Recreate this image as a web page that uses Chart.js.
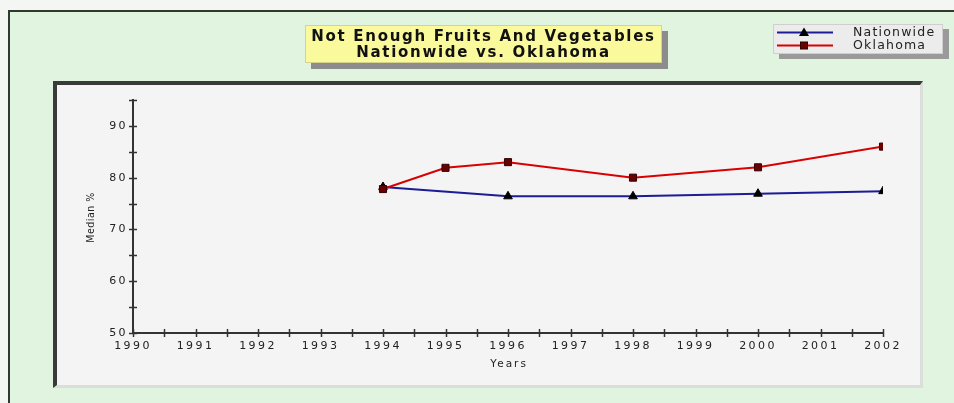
<!DOCTYPE html>
<html>
<head>
<meta charset="utf-8">
<script src="https://cdn.jsdelivr.net/npm/chart.js@4/dist/chart.umd.min.js"></script>
<style>
  body { margin: 0; background: #f4f6f4; font-family: "DejaVu Sans", Verdana, sans-serif; }
  #frame { position: absolute; left: 8px; top: 10px; width: 946px; height: 393px;
           box-sizing: border-box; border-left: 2px solid #2e3a2e; border-top: 2px solid #2e3a2e;
           background: #e0f4e0; }
  #panel { position: absolute; left: 53px; top: 81px; width: 870px; height: 307px;
           box-sizing: border-box; background: #f4f4f4;
           border-left: 4px solid #3a3a3a; border-top: 4px solid #3a3a3a;
           border-right: 3px solid #dcdedc; border-bottom: 3px solid #dcdedc; }
  #wrap { position: absolute; left: 0; top: 0; width: 954px; height: 403px; }
  #title { position: absolute; left: 305px; top: 25px; width: 357px; height: 38px;
           box-sizing: border-box; background: #fafa9c; border: 1px solid #d4d48a;
           box-shadow: 6px 6px 0 #8c8c8c; text-align: center;
           font-weight: bold; font-size: 15px; letter-spacing: 1.7px; line-height: 15.5px;
           padding-top: 3px; color: #111; white-space: nowrap; }
  #legend { position: absolute; left: 773px; top: 24px; width: 170px; height: 30px;
            box-sizing: border-box; background: #ececec; border: 1px solid #cfcfcf;
            box-shadow: 6px 5px 0 #9a9a9a; font-size: 12.5px; letter-spacing: 1.2px; color: #222; }
  .row { position: absolute; left: 3px; height: 13px; }
  .row svg { position: absolute; left: 0; top: 0; }
  .row span { position: absolute; left: 76px; top: -2px; white-space: nowrap; }
</style>
</head>
<body>
<div id="frame"></div>
<div id="panel"></div>
<div id="wrap"><canvas id="lineChart" width="954" height="403"></canvas></div>
<div id="title">Not Enough Fruits And Vegetables<br>Nationwide vs. Oklahoma</div>
<div id="legend">
  <div class="row" style="top:1px">
    <svg width="58" height="13"><line x1="0" y1="6.5" x2="56" y2="6.5" stroke="#1c1c96" stroke-width="2"/><polygon points="27,1.5 32,10 22,10" fill="#000"/></svg>
    <span>Nationwide</span>
  </div>
  <div class="row" style="top:14px">
    <svg width="58" height="13"><line x1="0" y1="6.5" x2="56" y2="6.5" stroke="#d80000" stroke-width="2"/><rect x="23.5" y="3" width="7" height="7" fill="#6b0000" stroke="#300000" stroke-width="1"/></svg>
    <span>Oklahoma</span>
  </div>
</div>

<script>
//データ
const nationwideYears = [1994, 1996, 1998, 2000, 2002];
const nationwide = [78.2, 76.4, 76.4, 76.9, 77.4];
const oklahomaYears = [1994, 1995, 1996, 1998, 2000, 2002];
const oklahoma = [77.8, 81.9, 83.0, 80.0, 82.0, 86.0];

function toPoints(xs, ys) {
    return xs.map(function (x, i) { return { x: x, y: ys[i] }; });
}

//軸を横切る目盛りと軸タイトル
const crossTicks = {
    id: "crossTicks",
    beforeUpdate(chart) { chart.ctx.letterSpacing = "2.4px"; },
    beforeDraw(chart) { chart.ctx.letterSpacing = "2.4px"; },
    beforeDatasetsDraw(chart) {
        const ctx = chart.ctx;
        const xs = chart.scales.x;
        const ys = chart.scales.y;
        const area = chart.chartArea;
        ctx.save();
        ctx.strokeStyle = "#333";
        ctx.lineWidth = 1.5;
        ctx.beginPath();
        xs.ticks.forEach(function (t, i) {
            const px = Math.round(xs.getPixelForTick(i)) + 0.5;
            ctx.moveTo(px, area.bottom - 4);
            ctx.lineTo(px, area.bottom + 4);
        });
        ys.ticks.forEach(function (t, i) {
            const py = Math.round(ys.getPixelForTick(i)) + 0.5;
            ctx.moveTo(area.left - 4, py);
            ctx.lineTo(area.left + 4, py);
        });
        ctx.stroke();

        ctx.fillStyle = "#222";
        ctx.textAlign = "center";
        ctx.textBaseline = "middle";
        ctx.letterSpacing = "2px";
        ctx.font = "10.5px 'DejaVu Sans'";
        ctx.fillText("Years", (area.left + area.right) / 2 + 1, area.bottom + 31);

        ctx.letterSpacing = "0.5px";
        ctx.font = "10.5px 'DejaVu Sans Condensed'";
        ctx.translate(area.left - 42, (area.top + area.bottom) / 2 + 1);
        ctx.rotate(-Math.PI / 2);
        ctx.fillText("Median %", 0, 0);
        ctx.restore();
    }
};

let lineChart = document.getElementById("lineChart");
new Chart(lineChart, {
    type: "line",
    data: {
        datasets: [
            {
                label: "Nationwide",
                data: toPoints(nationwideYears, nationwide),
                borderColor: "#1c1c96",
                borderWidth: 2,
                pointStyle: "triangle",
                pointRadius: 5,
                pointBackgroundColor: "#000",
                pointBorderColor: "#000",
                pointBorderWidth: 1,
                tension: 0,
                order: 2,
            },
            {
                label: "Oklahoma",
                data: toPoints(oklahomaYears, oklahoma),
                borderColor: "#d80000",
                borderWidth: 2,
                pointStyle: "rect",
                pointRadius: 5,
                pointBackgroundColor: "#6b0000",
                pointBorderColor: "#300000",
                pointBorderWidth: 1,
                tension: 0,
                order: 1,
            },
        ],
    },
    options: {
        responsive: false,
        animation: false,
        layout: { padding: { left: 81, right: 71, top: 100, bottom: 32 } },
        plugins: { legend: { display: false }, title: { display: false }, tooltip: { enabled: false } },
        scales: {
            x: {
                type: "linear",
                min: 1990,
                max: 2002,
                grid: { display: false, drawTicks: false },
                border: { display: true, color: "#333", width: 2 },
                afterFit: function (s) { s.height = 38; },
                ticks: {
                    stepSize: 0.5,
                    autoSkip: false,
                    maxRotation: 0,
                    padding: 7,
                    color: "#222",
                    font: { family: "DejaVu Sans", size: 11 },
                    callback: function (v) { return v % 1 === 0 ? String(v) : ""; },
                },
            },
            y: {
                min: 50,
                max: 95,
                grid: { display: false, drawTicks: false },
                border: { display: true, color: "#333", width: 2 },
                afterFit: function (s) { s.width = 52; },
                ticks: {
                    stepSize: 5,
                    autoSkip: false,
                    padding: 5,
                    color: "#222",
                    font: { family: "DejaVu Sans", size: 11 },
                    callback: function (v) { return v % 10 === 0 ? String(v) : ""; },
                },
            },
        },
    },
    plugins: [crossTicks],
});
</script>
</body>
</html>
